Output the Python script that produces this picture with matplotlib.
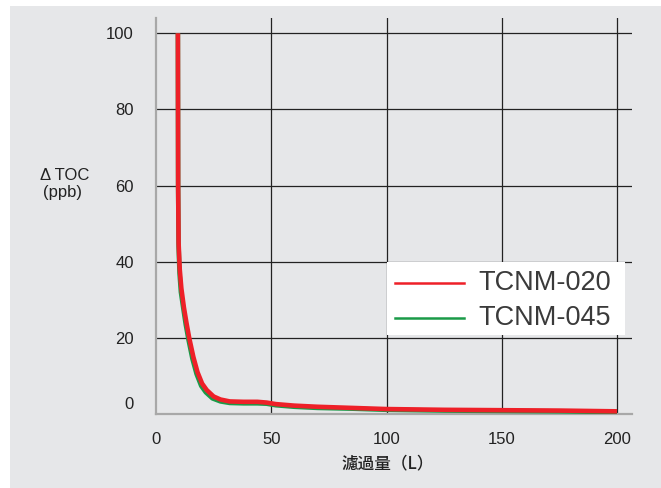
import matplotlib
matplotlib.use("Agg")
import matplotlib.pyplot as plt
import matplotlib.transforms as mtransforms
from matplotlib.patches import Rectangle

plt.rcParams['font.family'] = ['Liberation Sans', 'Noto Sans CJK JP', 'DejaVu Sans']

# Data
x_020 = [9.5, 9.6, 9.8, 10.3, 11, 12.1, 13.2, 14.4, 16.2, 18, 20, 22, 25, 28, 32, 38, 44, 48, 52, 60, 70, 85, 100, 125, 150, 175, 200]
y_020 = [100, 60, 45, 38, 33, 28, 24, 20, 15, 11, 8, 6.3, 4.6, 3.8, 3.3, 3.2, 3.2, 3.0, 2.6, 2.2, 1.9, 1.6, 1.3, 1.1, 1.0, 0.9, 0.7]
x_045 = [9.5, 9.6, 9.8, 10.2, 10.8, 11.9, 12.9, 14.1, 15.8, 17.6, 19.6, 21.6, 24.5, 28, 32, 38, 44, 48, 52, 60, 70, 85, 100, 125, 150, 175, 200]
y_045 = [100, 60, 44, 37, 32, 27.5, 23.5, 19.5, 14.5, 10.5, 7.4, 5.7, 4.1, 3.3, 2.9, 2.8, 2.8, 2.7, 2.3, 1.9, 1.6, 1.4, 1.1, 0.9, 0.8, 0.7, 0.5]
x_ticks = [0, 50, 100, 150, 200]
y_ticks = [0, 20, 40, 60, 80, 100]
labels = ['TCNM-020', 'TCNM-045']

BG = '#e6e7e9'
W, H = 661, 488
fig = plt.figure(figsize=(W / 100, H / 100), dpi=100)
fig.patches.append(Rectangle((10 / W, 0), 1 - 10 / W, (H - 6) / H, transform=fig.transFigure,
                             facecolor=BG, edgecolor='none', zorder=-10))

ax = fig.add_axes([156 / W, (H - 414) / H, (632 - 156) / W, (414 - 18) / H])
ax.set_facecolor(BG)
ax.set_xlim(0, 206.5)
ax.set_ylim(0, 104)

for xv in x_ticks[1:]:
    ax.axvline(xv, color='#222222', lw=0.9, zorder=1)
for yv in y_ticks[1:]:
    ax.axhline(yv, color='#222222', lw=0.9, zorder=1)

ax.plot(x_045, y_045, color='#1a9a48', lw=3.3, solid_joinstyle='round', solid_capstyle='butt', zorder=3)
ax.plot(x_020, y_020, color='#ee2028', lw=3.3, solid_joinstyle='round', solid_capstyle='butt', zorder=4)

for s in ['top', 'right']:
    ax.spines[s].set_visible(False)
for s in ['left', 'bottom']:
    ax.spines[s].set_color('#a8a8a8')
    ax.spines[s].set_linewidth(1.6)

ax.set_xticks(x_ticks)
ax.set_yticks(y_ticks)
ax.tick_params(length=0, labelsize=12, labelcolor='#222222')
ax.tick_params(axis='x', pad=13)
ax.tick_params(axis='y', pad=16)
# shift the "0" label up a bit
for lab in ax.get_yticklabels():
    if lab.get_text() == '0':
        lab.set_transform(lab.get_transform() + mtransforms.ScaledTranslation(0, 11 / 100, fig.dpi_scale_trans))

fig.text(65 / W, 1 - 175 / H, 'Δ TOC', ha='center', va='center', fontsize=12, color='#222222')
fig.text(62 / W, 1 - 193 / H, '(ppb)', ha='center', va='center', fontsize=12, color='#222222')
fig.text(388 / W, 1 - 463 / H, '濾過量（L）', ha='center', va='center', fontsize=12, color='#222222',
         family=['Noto Sans CJK JP', 'Liberation Sans'], weight='medium')

# Legend drawn manually
lx0, lx1 = 387, 625
ly0, ly1 = 262, 335
fig.patches.append(Rectangle((lx0 / W, 1 - ly1 / H), (lx1 - lx0) / W, (ly1 - ly0) / H,
                             transform=fig.transFigure, facecolor='white', edgecolor='none', zorder=5))
for lbl, col, yy in [(labels[0], '#ee2028', 283), (labels[1], '#1a9a48', 318)]:
    fig.add_artist(plt.Line2D([395 / W, 464 / W], [1 - yy / H, 1 - yy / H], color=col, lw=1.8,
                              transform=fig.transFigure, zorder=6))
    fig.text(478 / W, 1 - yy / H, lbl, ha='left', va='center', fontsize=19.5, color='#3a3a3a', zorder=7)

fig.savefig('out.png', dpi=100)
